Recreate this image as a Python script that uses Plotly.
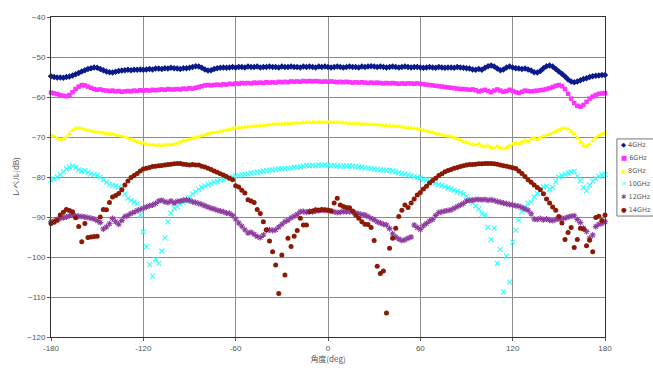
import plotly.graph_objects as go

# Measurement angles (deg), every 2 degrees from -180 to 180
angles = list(range(-180, 181, 2))

level_4ghz = [
    -54.8, -55.0, -55.1, -55.1, -55.2, -55.0, -54.9, -54.6, -54.3, -54.0,
    -53.6, -53.3, -53.0, -52.8, -52.6, -52.7, -53.0, -53.3, -53.6, -53.8,
    -53.9, -53.7, -53.5, -53.4, -53.3, -53.2, -53.3, -53.2, -53.2, -53.1,
    -53.2, -53.1, -53.0, -53.1, -52.9, -52.9, -53.0, -52.8, -52.9, -52.7,
    -52.8, -52.9, -53.0, -52.8, -52.8, -52.7, -52.5, -52.3, -52.4, -52.7,
    -53.1, -53.4, -53.3, -53.0, -52.8, -52.7, -52.6, -52.7, -52.6, -52.5,
    -52.6, -52.5, -52.5, -52.6, -52.4, -52.5, -52.5, -52.4, -52.6, -52.5,
    -52.5, -52.4, -52.5, -52.5, -52.6, -52.4, -52.5, -52.5, -52.4, -52.5,
    -52.5, -52.6, -52.4, -52.5, -52.4, -52.5, -52.6, -52.4, -52.5, -52.4,
    -52.5, -52.6, -52.5, -52.4, -52.5, -52.6, -52.5, -52.4, -52.5, -52.5,
    -52.6, -52.4, -52.5, -52.4, -52.3, -52.4, -52.5, -52.4, -52.5, -52.6,
    -52.5, -52.4, -52.5, -52.6, -52.5, -52.4, -52.5, -52.6, -52.5, -52.5,
    -52.6, -52.7, -52.6, -52.5, -52.6, -52.7, -52.5, -52.6, -52.7, -52.6,
    -52.6, -52.7, -52.5, -52.6, -52.7, -52.8, -52.9, -53.1, -53.2, -53.0,
    -53.2, -52.7, -52.3, -52.1, -52.4, -52.9, -53.3, -53.1, -52.6, -52.4,
    -52.6, -52.8, -52.9, -53.0, -52.9, -53.1, -53.4, -53.8, -53.9, -53.5,
    -52.8, -52.3, -52.1, -52.4, -53.0, -53.6, -54.2, -54.9, -55.6, -56.1,
    -56.3, -56.1, -55.8, -55.5, -55.3, -55.0, -54.8, -54.7, -54.6, -54.5,
    -54.5,
]

level_6ghz = [
    -58.9, -59.1, -59.3, -59.5, -59.7, -59.8, -59.5, -58.8, -58.0, -57.4,
    -57.0, -57.1, -57.4, -57.7, -58.0, -58.2, -58.1, -58.3, -58.4, -58.5,
    -58.4, -58.6, -58.5, -58.7, -58.6, -58.5, -58.6, -58.4, -58.5, -58.3,
    -58.4, -58.3, -58.4, -58.2, -58.3, -58.2, -58.1, -58.2, -58.0, -58.1,
    -58.1, -58.0, -58.1, -57.9, -58.0, -57.8, -57.9, -57.7, -57.5, -57.3,
    -57.1, -57.0, -57.1, -57.0, -56.9, -57.0, -56.8, -56.9, -56.7, -56.8,
    -56.6, -56.7, -56.5, -56.6, -56.5, -56.6, -56.4, -56.5, -56.4, -56.5,
    -56.3, -56.4, -56.3, -56.4, -56.2, -56.3, -56.2, -56.3, -56.1, -56.2,
    -56.1, -56.2, -56.0, -56.1, -56.0, -56.1, -56.0, -56.1, -56.2, -56.1,
    -56.2, -56.1, -56.2, -56.3, -56.2, -56.3, -56.2, -56.3, -56.4, -56.3,
    -56.4, -56.3, -56.4, -56.5, -56.4, -56.5, -56.4, -56.5, -56.6, -56.5,
    -56.6, -56.5, -56.6, -56.7, -56.6, -56.7, -56.6, -56.6, -56.7, -56.6,
    -56.7, -56.8, -56.9, -57.0, -57.1, -57.2, -57.3, -57.4, -57.5, -57.6,
    -57.7, -57.8, -57.9, -58.0, -58.0, -58.1, -58.2, -58.1, -58.3, -58.6,
    -58.4, -58.2, -58.5, -58.8, -58.4, -58.1, -58.4, -58.7, -58.5, -58.2,
    -58.5, -58.8, -59.0, -58.7, -58.4, -58.5, -58.6, -58.5, -58.4, -58.3,
    -58.2, -58.0, -57.8, -57.5, -57.2, -57.0, -57.3, -58.0, -59.2, -60.4,
    -61.5, -62.2, -62.4, -62.0, -61.2, -60.4, -59.9, -59.5, -59.2, -59.1,
    -59.0,
]

level_8ghz = [
    -69.5, -69.9, -70.3, -70.6, -70.5, -70.0, -69.2, -68.4, -67.9, -67.8,
    -67.9, -68.1, -68.3, -68.5, -68.6, -68.8, -68.9, -69.0, -69.2, -69.1,
    -69.3, -69.5, -69.6, -69.8, -70.0, -70.3, -70.6, -70.9, -71.2, -71.4,
    -71.6, -71.8, -71.9, -72.0, -72.1, -72.0, -72.1, -72.0, -71.9, -72.0,
    -71.8, -71.6, -71.3, -71.0, -70.8, -70.6, -70.3, -70.1, -70.0, -69.6,
    -69.5, -69.2, -69.0, -68.9, -68.8, -68.6, -68.5, -68.3, -68.1, -67.9,
    -67.8, -67.7, -67.6, -67.5, -67.5, -67.4, -67.3, -67.2, -67.2, -67.1,
    -67.0, -67.0, -66.9, -66.8, -66.8, -66.7, -66.7, -66.6, -66.6, -66.5,
    -66.5, -66.5, -66.4, -66.4, -66.4, -66.3, -66.3, -66.3, -66.3, -66.3,
    -66.3, -66.3, -66.4, -66.4, -66.4, -66.5, -66.5, -66.6, -66.6, -66.6,
    -66.7, -66.7, -66.8, -66.8, -66.9, -66.9, -67.0, -67.0, -67.1, -67.1,
    -67.2, -67.3, -67.4, -67.4, -67.5, -67.6, -67.7, -67.8, -67.9, -68.0,
    -68.1, -68.3, -68.5, -68.7, -68.9, -69.1, -69.3, -69.5, -69.6, -69.8,
    -69.9, -70.2, -70.5, -70.8, -71.1, -71.4, -71.6, -71.9, -72.0, -71.7,
    -72.3, -72.5, -72.1, -72.6, -72.8, -72.3, -72.7, -73.0, -72.7, -72.2,
    -71.8, -71.5, -71.7, -71.2, -70.8, -71.1, -70.5, -70.2, -70.6, -70.1,
    -69.8, -69.5, -69.3, -69.0, -68.6, -68.2, -67.9, -67.8, -68.0, -68.6,
    -69.3, -70.2, -71.2, -72.1, -72.4, -71.8, -71.0, -70.2, -69.6, -69.2,
    -69.0,
]

level_10ghz = [
    -80.8, -80.5, -80.0, -79.4, -78.7, -78.0, -77.5, -77.3, -77.6, -78.2,
    -78.5, -78.4, -78.9, -79.2, -79.4, -79.6, -80.1, -80.7, -81.3, -81.9,
    -82.1, -82.3, -82.5, -83.0, -84.2, -85.3, -85.9, -86.3, -86.7, -89.5,
    -93.7, -97.4, -101.9, -104.8, -100.6, -101.6, -98.5, -95.2, -91.2, -89.0,
    -87.8, -87.4, -86.8, -86.3, -86.0, -85.2, -84.2, -83.7, -83.1, -82.6,
    -82.2, -81.9, -81.6, -81.3, -81.1, -80.8, -80.6, -80.4, -80.2, -80.0,
    -79.8, -79.6, -79.4, -79.3, -79.2, -79.0, -78.9, -78.8, -78.7, -78.5,
    -78.4, -78.3, -78.2, -78.1, -78.0, -77.9, -77.9, -77.8, -77.7, -77.6,
    -77.6, -77.5, -77.3, -77.1, -77.2, -77.1, -77.2, -77.0, -77.1, -77.0,
    -77.1, -77.2, -77.1, -77.2, -77.3, -77.2, -77.3, -77.2, -77.3, -77.4,
    -77.5, -77.6, -77.7, -77.8, -77.9, -78.0, -78.1, -78.2, -78.3, -78.3,
    -78.4, -78.5, -78.7, -78.9, -79.1, -79.3, -79.5, -79.7, -79.9, -80.1,
    -80.3, -80.6, -80.8, -81.0, -81.3, -81.6, -81.9, -82.1, -82.4, -82.7,
    -83.0, -83.3, -83.6, -83.9, -84.3, -84.8, -85.6, -86.4, -87.2, -88.0,
    -89.3, -89.5, -92.6, -95.6, -92.8, -101.6, -98.1, -108.7, -99.8, -106.3,
    -96.3, -93.3, -90.8, -88.8, -87.6, -86.6, -86.3, -85.0, -84.1, -83.4,
    -82.5, -82.3, -83.0, -82.6, -81.2, -80.0, -79.6, -79.3, -79.0, -78.7,
    -78.6, -79.8, -80.9, -82.6, -83.4, -82.0, -81.1, -80.4, -79.8, -79.5,
    -79.4,
]

level_12ghz = [
    -91.2, -91.0, -90.6, -90.3, -90.2, -90.0, -89.7, -89.5, -89.7, -89.8,
    -89.9, -90.0, -90.1, -90.3, -90.5, -90.9, -91.4, -93.0, -92.5, -91.7,
    -90.4, -91.2, -91.8, -90.9, -89.9, -89.6, -89.1, -88.8, -88.4, -88.1,
    -87.8, -87.5, -87.2, -87.0, -86.6, -86.0, -85.8, -86.2, -86.4, -86.0,
    -86.5, -86.1, -86.0, -85.8, -85.7, -85.9, -86.2, -86.4, -86.6, -86.9,
    -87.2, -87.5, -87.8, -88.0, -88.3, -88.5, -88.7, -89.0, -89.1, -89.6,
    -90.5, -91.5, -92.3, -93.2, -94.0, -93.8, -94.3, -94.9, -95.1, -94.5,
    -93.3, -93.2, -93.4, -93.2, -92.5, -91.8, -91.2, -90.8, -90.2, -89.8,
    -89.3, -88.7, -88.6, -88.8, -88.6, -88.7, -88.5, -88.4, -88.3, -88.4,
    -88.3, -88.5, -88.7, -88.9, -88.8, -88.6, -88.7, -88.6, -88.8, -89.0,
    -89.2, -89.4, -89.5, -89.9, -90.3, -90.7, -91.2, -91.5, -91.8, -92.0,
    -92.9, -94.2, -95.0, -95.5, -95.9, -95.7, -95.3, -95.0, -92.0, -92.6,
    -93.1, -92.2, -91.6, -91.0, -90.6, -89.6, -88.9, -88.7, -88.5, -88.4,
    -88.2, -87.8, -87.4, -87.0, -86.6, -86.0, -85.9, -85.8, -85.6, -85.6,
    -85.7, -85.6, -85.8, -85.7, -85.9, -86.1, -86.3, -86.5, -86.7, -86.9,
    -87.0, -87.2, -87.3, -87.6, -88.0, -88.3, -89.2, -90.5, -90.6, -90.4,
    -90.7, -90.5, -90.8, -90.9, -90.6, -90.5, -90.3, -90.3, -90.0, -89.8,
    -89.7, -90.6, -91.4, -92.8, -93.6, -95.3, -94.5, -92.4, -91.8, -91.6,
    -91.2,
]

level_14ghz = [
    -91.6, -91.3, -90.8, -89.5, -88.8, -88.1, -88.4, -88.7, -90.2, -92.4,
    -96.2, -91.6, -95.1, -95.0, -94.9, -94.8, -90.0, -88.1, -88.2, -86.4,
    -85.0, -84.6, -84.1, -83.2, -82.0, -81.0, -80.1, -79.6, -79.1, -78.5,
    -78.0, -77.8, -77.6, -77.4, -77.3, -77.2, -77.1, -77.0, -76.9, -76.8,
    -76.7, -76.6, -76.6, -76.8, -76.9, -77.0, -76.9, -77.0, -77.0, -77.3,
    -77.5, -77.8, -78.1, -78.5, -78.8, -79.2, -79.5, -79.9, -80.3, -80.7,
    -82.2, -82.5, -83.3, -84.0, -85.7, -86.0, -86.4, -88.1, -89.1, -91.2,
    -93.2, -96.0, -98.7, -102.0, -109.1, -99.5, -104.5, -95.3, -97.4, -94.8,
    -93.4, -90.3, -92.0, -92.0, -88.7, -88.5, -88.2, -88.3, -88.1, -88.2,
    -88.3, -88.5, -86.5, -85.3, -87.0, -87.4, -87.6, -87.7, -88.5, -89.5,
    -90.3, -91.2, -91.8, -91.9, -92.6, -95.9, -102.3, -104.1, -103.5, -114.0,
    -97.8, -95.3, -92.8, -89.9, -88.3, -87.0, -87.6, -86.5, -85.5, -84.5,
    -83.9, -83.0, -82.3, -81.5, -80.9, -80.3, -79.6, -79.2, -78.7, -78.4,
    -78.1, -77.8, -77.6, -77.4, -77.2, -77.0, -76.9, -76.9, -76.8, -76.7,
    -76.7, -76.6, -76.6, -76.6, -76.7, -76.8, -77.0, -77.2, -77.3, -77.5,
    -77.7, -77.9, -78.5, -79.1, -79.9, -80.7, -81.3, -82.0, -82.6, -83.2,
    -84.2, -85.5, -86.5, -87.5, -88.3, -89.9, -91.5, -95.6, -93.9, -92.6,
    -97.6, -95.6, -92.8, -93.0, -97.2, -95.8, -98.7, -90.1, -89.8, -90.9,
    -89.5,
]

series_names = ["4GHz", "6GHz", "8GHz", "10GHz", "12GHz", "14GHz"]
series_levels = [level_4ghz, level_6ghz, level_8ghz, level_10ghz, level_12ghz, level_14ghz]
series_colors = ["#0a1a8a", "#ff33ff", "#ffff00", "#33ffff", "#8e3ca0", "#8a1a06"]
series_symbols = ["diamond", "square", "triangle-up", "x-thin-open", "asterisk-open", "circle"]
series_sizes = [5, 4.5, 5, 5, 5, 5]
# glyphs used as legend keys
legend_glyphs = ["◆", "■", "▲", "✕", "✱", "●"]

fig = go.Figure()
for name, levels, color, symbol, size in zip(series_names, series_levels, series_colors,
                                             series_symbols, series_sizes):
    line_marker = symbol.endswith("-open")
    fig.add_trace(go.Scatter(
        x=angles,
        y=levels,
        name=name,
        mode="markers",
        cliponaxis=False,
        showlegend=False,
        marker=dict(
            symbol=symbol,
            size=size,
            color=color,
            line=dict(color=color, width=1.1 if line_marker else 0),
        ),
    ))

tick_font = dict(family="Liberation Sans, Arial, sans-serif", size=8, color="#555555")
title_font = dict(family="Noto Sans CJK JP, sans-serif", size=8, color="#555555")

# Legend box at the right of the plot area (paper coordinates)
leg_left = 1.0215
leg_top = 0.619
leg_bottom = 0.378
leg_step = (leg_top - leg_bottom) / 6.0

annotations = []
for k, (name, color, glyph) in enumerate(zip(series_names, series_colors, legend_glyphs)):
    yk = leg_top - leg_step * (k + 0.5)
    annotations.append(dict(
        xref="paper", yref="paper",
        x=leg_left + 0.003, y=yk,
        xanchor="left", yanchor="middle",
        showarrow=False,
        text=f"<span style='color:{color}'>{glyph}</span> {name}",
        font=dict(family="DejaVu Sans, Liberation Sans, sans-serif", size=6.5, color="#555555"),
    ))

fig.update_layout(
    width=653,
    height=368,
    margin=dict(l=51, r=48, t=17, b=31, autoexpand=False),
    paper_bgcolor="white",
    plot_bgcolor="white",
    showlegend=False,
    annotations=annotations,
    shapes=[dict(
        type="rect", xref="paper", yref="paper",
        x0=leg_left, x1=1.2, y0=leg_bottom, y1=leg_top,
        line=dict(color="#777777", width=1),
        fillcolor="rgba(0,0,0,0)",
        layer="below",
    )],
    xaxis=dict(
        range=[-180, 180],
        tickmode="array",
        tickvals=[-180, -120, -60, 0, 60, 120, 180],
        ticktext=["-180", "-120", "-60", "0", "60", "120", "180"],
        showgrid=True, gridcolor="#8c8c8c", gridwidth=1,
        zeroline=False,
        showline=True, linecolor="#333333", linewidth=1, mirror=True,
        ticks="outside", ticklen=3, tickcolor="#555555",
        tickfont=tick_font,
        title=dict(text="角度(deg)", font=title_font, standoff=4),
    ),
    yaxis=dict(
        range=[-120, -40],
        dtick=10,
        showgrid=True, gridcolor="#8c8c8c", gridwidth=1,
        zeroline=False,
        showline=True, linecolor="#333333", linewidth=1, mirror=True,
        ticks="outside", ticklen=3, tickcolor="#555555",
        tickfont=tick_font,
        title=dict(text="レベル(dB)", font=title_font, standoff=6),
    ),
)

fig.write_html("out.html")
